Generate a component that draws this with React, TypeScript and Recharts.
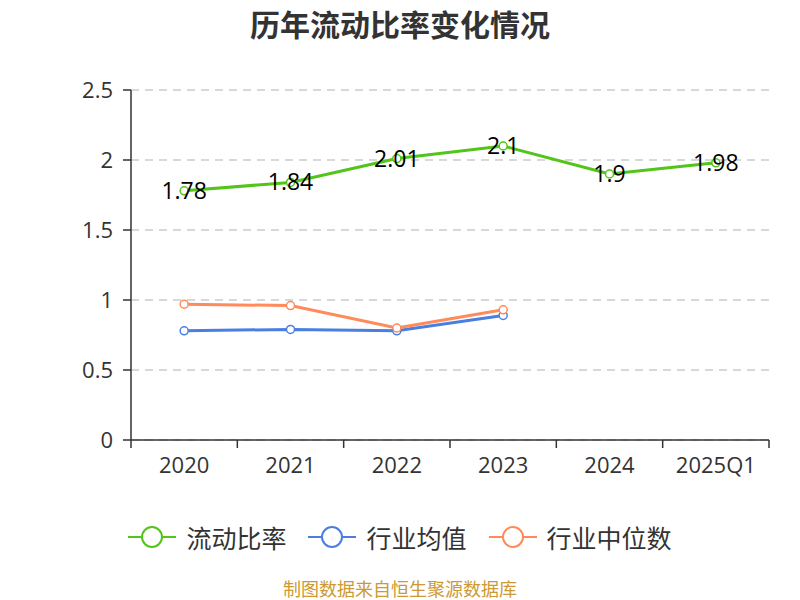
import React from "react";
import { LineChart, Line, XAxis, YAxis, CartesianGrid, LabelList } from "recharts";

const categories = ["2020", "2021", "2022", "2023", "2024", "2025Q1"];
const currentRatio = [1.78, 1.84, 2.01, 2.1, 1.9, 1.98];
const industryMean = [0.78, 0.79, 0.78, 0.89, null, null];
const industryMedian = [0.97, 0.96, 0.8, 0.93, null, null];
const yTicks = [0, 0.5, 1, 1.5, 2, 2.5];

const title = "历年流动比率变化情况";
const footer = "制图数据来自恒生聚源数据库";

const series = [
  { key: "ratio", name: "流动比率", color: "#52c41a", values: currentRatio, label: true },
  { key: "mean", name: "行业均值", color: "#4a7fe2", values: industryMean, label: false },
  { key: "median", name: "行业中位数", color: "#ff8a5a", values: industryMedian, label: false },
];

const data = categories.map((c, i) => {
  const row: any = { name: c };
  series.forEach((s) => {
    row[s.key] = s.values[i];
  });
  return row;
});

const FONT = "'Open Sans', 'Noto Sans CJK SC', sans-serif";

const XTick = (props: any) => {
  const { x, y, payload, index } = props;
  const off = payload && typeof payload.offset === "number" && payload.offset > 0 ? payload.offset : 53.2;
  return (
    <g>
      <line x1={x - off} y1={y} x2={x - off} y2={y + 8} stroke="#333" strokeWidth={1.5} />
      {index === categories.length - 1 && (
        <line x1={x + off} y1={y} x2={x + off} y2={y + 8} stroke="#333" strokeWidth={1.5} />
      )}
      <text x={x} y={y + 25} dy="0.35em" textAnchor="middle" fill="#333" fontSize={22} fontFamily={FONT}>
        {payload.value}
      </text>
    </g>
  );
};

const ValueLabel = (props: any) => {
  const { x, y, value } = props;
  if (value == null) return null;
  return (
    <text x={x} y={y} dy="0.35em" textAnchor="middle" fill="#000" fontSize={23} fontFamily={FONT}>
      {value}
    </text>
  );
};

export default function App() {
  return (
    <div style={{ position: "absolute", left: 0, top: 0, width: 800, height: 600, background: "#fff", fontFamily: FONT, overflow: "hidden" }}>
      <div
        style={{
          position: "absolute",
          left: 0,
          top: 4,
          width: 800,
          textAlign: "center",
          fontSize: 30,
          fontWeight: "bold",
          color: "#333",
          fontFamily: "'Noto Sans CJK SC', sans-serif",
          lineHeight: "38px",
        }}
      >
        {title}
      </div>
      <LineChart
        width={800}
        height={600}
        data={data}
        margin={{ top: 90, right: 31, left: 71, bottom: 130 }}
      >
        <CartesianGrid vertical={false} stroke="#ccc" strokeDasharray="8 6" strokeWidth={1.5} />
        <XAxis
          dataKey="name"
          scale="band"
          height={30}
          axisLine={{ stroke: "#333", strokeWidth: 1.5 }}
          tickLine={false}
          tickSize={0}
          tickMargin={0}
          tick={<XTick />}
          interval={0}
        />
        <YAxis
          width={60}
          domain={[0, 2.5]}
          ticks={yTicks}
          axisLine={{ stroke: "#333", strokeWidth: 1.5 }}
          tickLine={{ stroke: "#333", strokeWidth: 1.5 }}
          tickSize={8}
          tickMargin={10}
          tick={{ fill: "#333", fontSize: 22, fontFamily: FONT }}
        />
        {series.map((s) => (
          <Line
            key={s.key}
            dataKey={s.key}
            name={s.name}
            stroke={s.color}
            strokeWidth={3}
            dot={{ r: 4, fill: "#fff", stroke: s.color, strokeWidth: 1.5 }}
            activeDot={false}
            isAnimationActive={false}
            connectNulls={false}
          >
            {s.label && <LabelList dataKey={s.key} content={<ValueLabel />} />}
          </Line>
        ))}
      </LineChart>
      <div
        style={{
          position: "absolute",
          left: 0,
          top: 519,
          width: 800,
          height: 36,
          display: "flex",
          justifyContent: "center",
          alignItems: "center",
          gap: 22,
        }}
      >
        {series.map((s) => (
          <div key={s.key} style={{ display: "flex", alignItems: "center", gap: 10 }}>
            <svg width={48} height={24}>
              <line x1={0} y1={12} x2={48} y2={12} stroke={s.color} strokeWidth={2} />
              <circle cx={24} cy={12} r={10} fill="#fff" stroke={s.color} strokeWidth={2} />
            </svg>
            <span style={{ fontSize: 25, color: "#333", fontFamily: "'Noto Sans CJK SC', sans-serif", lineHeight: "36px" }}>
              {s.name}
            </span>
          </div>
        ))}
      </div>
      <div
        style={{
          position: "absolute",
          left: 0,
          top: 578,
          width: 800,
          textAlign: "center",
          fontSize: 18,
          color: "#cc9933",
          fontFamily: "'Noto Sans CJK SC', sans-serif",
          lineHeight: "20px",
        }}
      >
        {footer}
      </div>
    </div>
  );
}
